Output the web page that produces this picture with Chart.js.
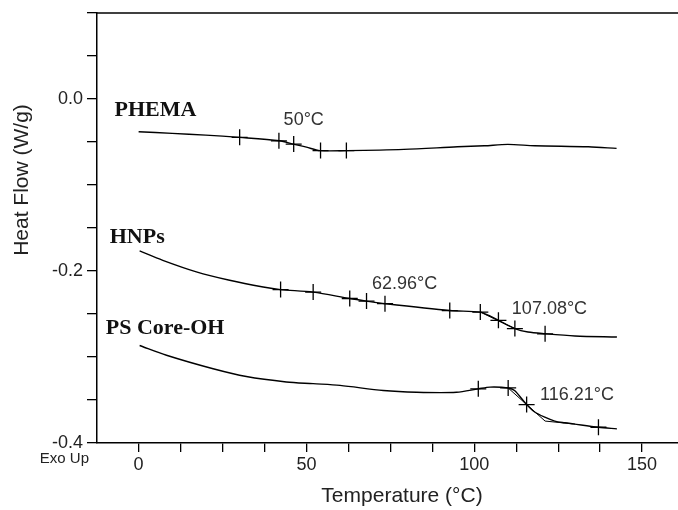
<!DOCTYPE html>
<html>
<head>
<meta charset="utf-8">
<script src="https://cdn.jsdelivr.net/npm/chart.js@4.4.0/dist/chart.umd.min.js"></script>
<style>
  body { margin: 0; background: #fff; }
  canvas { display: block; }
</style>
</head>
<body>
<canvas id="dsc" width="678" height="510"></canvas>
<script>
// temperatures (°C) and heat flow (W/g)
const phemaT  = [0, 10, 20, 30, 42, 46, 50, 54, 62, 79, 95, 103, 110, 118, 134, 142.4];
const phemaHF = [-0.038, -0.040, -0.042, -0.0446, -0.0486, -0.0524, -0.056, -0.060, -0.060, -0.0586, -0.0556, -0.0544, -0.0528, -0.0544, -0.0556, -0.0574];

const hnpT  = [0.3, 7.2, 17.2, 27.1, 37.1, 42.3, 52.0, 62.9, 67.9, 73.4, 92.7, 101.8, 104.5, 107.2, 112.1, 116, 121.1, 130, 142.5];
const hnpHF = [-0.1767, -0.1876, -0.201, -0.2108, -0.2186, -0.2216, -0.2245, -0.232, -0.235, -0.238, -0.246, -0.2478, -0.252, -0.2574, -0.267, -0.271, -0.273, -0.2755, -0.2768];

const psT  = [0.3, 8.3, 22.2, 32.1, 44, 52, 60, 72.9, 82.8, 94.7, 101.2, 104.7, 110.1, 112, 115.6, 118, 121, 124, 127, 129.5, 137, 142.5];
const psHF = [-0.2866, -0.298, -0.3137, -0.3227, -0.329, -0.331, -0.333, -0.339, -0.341, -0.341, -0.337, -0.335, -0.336, -0.339, -0.3553, -0.364, -0.370, -0.3745, -0.3765, -0.3778, -0.3817, -0.3836];

// analysis cursors (+) placed by the software
const phemaMarkT  = [30.1, 41.8, 46.2, 54.2, 61.9];
const phemaMarkHF = [-0.0446, -0.0486, -0.0524, -0.060, -0.060];
const hnpMarkT  = [42.3, 52.0, 62.9, 67.9, 73.4, 92.7, 101.8, 107.2, 112.1, 121.1];
const hnpMarkHF = [-0.2216, -0.2245, -0.232, -0.235, -0.238, -0.246, -0.2478, -0.2574, -0.267, -0.273];
const psMarkT  = [101.2, 110.1, 115.6, 137.0];
const psMarkHF = [-0.337, -0.336, -0.3553, -0.3817];

// tangent construction lines at the transitions
const hnpTanT  = [101.8, 112.1];
const hnpTanHF = [-0.2478, -0.267];
const psTanT  = [110.1, 121.1, 130];
const psTanHF = [-0.336, -0.3745, -0.378];

// sample names and transition temperatures
const sampleNames = ['PHEMA', 'HNPs', 'PS Core-OH'];
const sampleT  = [-7.2, -8.6, -9.8];
const sampleHF = [-0.0128, -0.1607, -0.2662];
const tgLabels = ['50°C', '62.96°C', '107.08°C', '116.21°C'];
const tgT  = [43.2, 69.5, 111.2, 119.6];
const tgHF = [-0.0245, -0.2149, -0.2446, -0.3448];

const yLabelled = [0, -0.2, -0.4];

const pts = (xs, ys) => xs.map((t, i) => ({ x: t, y: ys[i] }));

const curve = (data) => ({
    data, showLine: true, borderColor: '#000', borderWidth: 1.4,
    pointRadius: 0, tension: 0.3
});
const tangent = (data) => ({
    data, showLine: true, borderColor: '#000', borderWidth: 1,
    pointRadius: 0, tension: 0
});
const marks = (data) => ({
    data, showLine: false, pointStyle: 'cross', pointRadius: 8,
    pointBorderColor: '#000', pointBorderWidth: 1.3, pointBackgroundColor: '#000'
});

const overlay = {
    id: 'overlay',
    afterDraw(chart) {
        const { ctx, chartArea, scales: { x, y } } = chart;
        ctx.save();
        // frame top
        ctx.strokeStyle = '#000';
        ctx.lineWidth = 1.5;
        ctx.beginPath();
        ctx.moveTo(chartArea.left, chartArea.top);
        ctx.lineTo(chartArea.right, chartArea.top);
        ctx.stroke();

        ctx.textAlign = 'left';
        ctx.textBaseline = 'middle';
        ctx.fillStyle = '#111';
        ctx.font = 'bold 22px "Liberation Serif"';
        sampleNames.forEach((n, i) => {
            ctx.fillText(n, x.getPixelForValue(sampleT[i]), y.getPixelForValue(sampleHF[i]));
        });
        ctx.fillStyle = '#333';
        ctx.font = '18px "Liberation Sans"';
        tgLabels.forEach((n, i) => {
            ctx.fillText(n, x.getPixelForValue(tgT[i]), y.getPixelForValue(tgHF[i]));
        });

        // axis titles
        ctx.fillStyle = '#222';
        ctx.font = '21px "Liberation Sans"';
        ctx.textAlign = 'center';
        ctx.textBaseline = 'alphabetic';
        ctx.fillText('Temperature (°C)', 402, 502);
        ctx.save();
        ctx.translate(28, 180);
        ctx.rotate(-Math.PI / 2);
        ctx.fillText('Heat Flow (W/g)', 0, 0);
        ctx.restore();

        ctx.font = '15px "Liberation Sans"';
        ctx.textAlign = 'right';
        ctx.fillText('Exo Up', 89, 463);
        ctx.restore();
    }
};

new Chart(document.getElementById('dsc'), {
    type: 'scatter',
    data: {
        datasets: [
            curve(pts(phemaT, phemaHF)),
            curve(pts(hnpT, hnpHF)),
            curve(pts(psT, psHF)),
            tangent(pts(hnpTanT, hnpTanHF)),
            tangent(pts(psTanT, psTanHF)),
            marks(pts(phemaMarkT, phemaMarkHF)),
            marks(pts(hnpMarkT, hnpMarkHF)),
            marks(pts(psMarkT, psMarkHF))
        ]
    },
    options: {
        responsive: false,
        animation: false,
        devicePixelRatio: 1,
        layout: { autoPadding: false, padding: { top: 13, left: 0, right: 0, bottom: 0 } },
        plugins: {
            legend: { display: false },
            tooltip: { enabled: false }
        },
        scales: {
            x: {
                type: 'linear',
                min: -12.4,
                max: 160.7,
                afterFit: (s) => { s.height = 67; s.paddingLeft = 0; s.paddingRight = 0; },
                border: { color: '#000', width: 1.5 },
                grid: { drawOnChartArea: false, color: '#000', tickLength: 9, lineWidth: 1.3 },
                ticks: {
                    stepSize: 12.5,
                    includeBounds: false,
                    autoSkip: false,
                    maxRotation: 0,
                    padding: 2,
                    color: '#222',
                    font: { family: 'Liberation Sans', size: 18 },
                    callback: (v) => (Math.abs(v % 50) < 1e-6 ? String(v) : '')
                }
            },
            y: {
                type: 'linear',
                min: -0.4,
                max: 0.1,
                afterFit: (s) => { s.width = 97; s.paddingTop = 0; s.paddingBottom = 0; },
                border: { color: '#000', width: 1.5 },
                grid: { drawOnChartArea: false, color: '#000', tickLength: 10, lineWidth: 1.3 },
                ticks: {
                    stepSize: 0.05,
                    autoSkip: false,
                    padding: 4,
                    color: '#222',
                    font: { family: 'Liberation Sans', size: 18 },
                    callback: (v) => (yLabelled.some((t) => Math.abs(v - t) < 1e-6) ? v.toFixed(1) : '')
                }
            }
        }
    },
    plugins: [overlay]
});
</script>
</body>
</html>
